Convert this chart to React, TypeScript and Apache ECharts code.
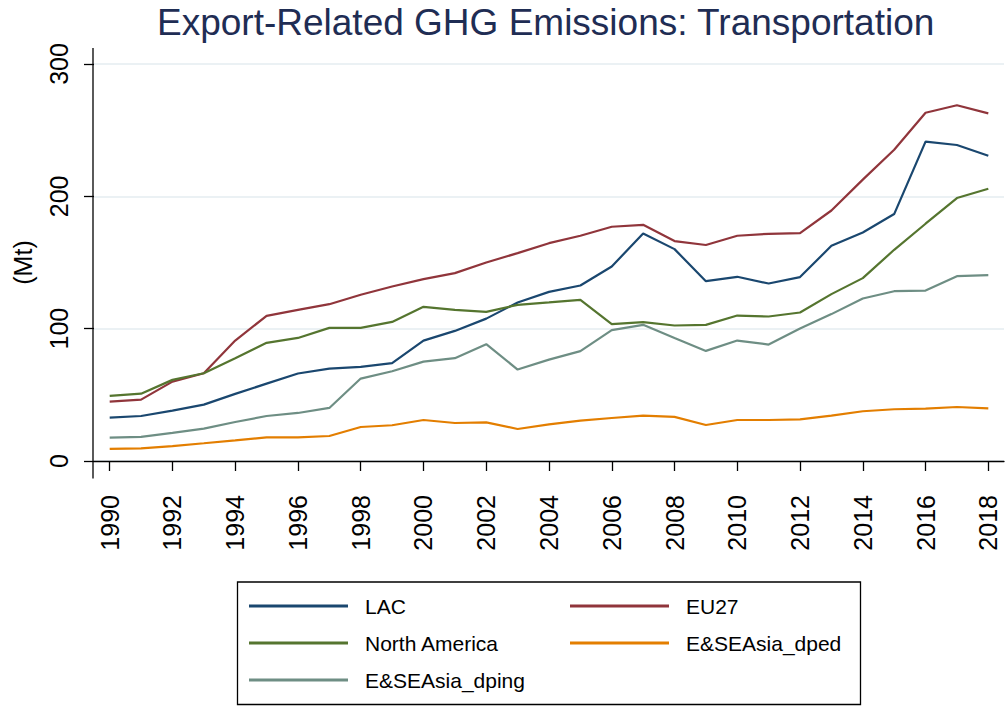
import React, { useEffect, useRef } from "react";
import * as echarts from "echarts";

const years = [
  "1990", "1991", "1992", "1993", "1994", "1995", "1996", "1997", "1998", "1999",
  "2000", "2001", "2002", "2003", "2004", "2005", "2006", "2007", "2008", "2009",
  "2010", "2011", "2012", "2013", "2014", "2015", "2016", "2017", "2018",
];

const lac = [
  32.8, 34.0, 38.1, 42.6, 50.7, 58.5, 66.1, 69.8, 71.1, 73.9,
  91.0, 98.3, 107.6, 119.8, 127.8, 132.6, 147.0, 171.9, 160.1, 135.9,
  139.2, 134.1, 139.0, 162.6, 172.7, 186.6, 241.3, 238.8, 230.7,
];
const eu27 = [
  44.9, 46.4, 60.0, 66.3, 91.0, 109.7, 114.2, 118.5, 125.6, 131.9,
  137.4, 142.0, 150.0, 157.1, 164.6, 170.2, 177.0, 178.5, 166.2, 163.2,
  170.2, 171.7, 172.2, 189.3, 212.6, 235.2, 263.2, 268.8, 262.7,
];
const northAmerica = [
  49.2, 50.9, 61.3, 66.3, 77.7, 89.3, 93.0, 100.6, 100.6, 105.1,
  116.5, 114.2, 112.7, 118.0, 119.8, 121.8, 103.4, 104.9, 102.4, 102.9,
  109.9, 109.2, 112.2, 126.1, 138.2, 159.6, 179.3, 198.7, 205.7,
];
const esDped = [
  9.1, 9.6, 11.3, 13.4, 15.6, 17.9, 17.9, 18.9, 25.7, 27.0,
  31.0, 28.7, 29.2, 24.2, 27.7, 30.5, 32.5, 34.3, 33.3, 27.2,
  31.0, 31.0, 31.5, 34.3, 37.6, 39.1, 39.6, 40.8, 39.8,
];
const esDping = [
  17.6, 18.2, 21.2, 24.5, 29.5, 34.0, 36.3, 40.1, 62.3, 67.8,
  75.1, 77.7, 88.3, 69.1, 76.6, 83.0, 98.9, 102.9, 93.0, 83.2,
  91.0, 88.0, 100.1, 111.0, 122.8, 128.3, 128.8, 139.7, 140.5,
];

const seriesNames = ["LAC", "EU27", "North America", "E&SEAsia_dped", "E&SEAsia_dping"];
const seriesValues = [lac, eu27, northAmerica, esDped, esDping];
const seriesColors = ["#1a476f", "#90353b", "#55752f", "#e37e00", "#6e8e84"];

const FONT = "'Liberation Sans', Arial, sans-serif";

export default function App() {
  const ref = useRef<HTMLDivElement>(null);

  useEffect(() => {
    document.body.style.margin = "0";
    if (!ref.current) return;
    const chart = echarts.init(ref.current, undefined, { renderer: "svg" });

    const legendText = {
      fontFamily: FONT,
      fontSize: 21,
      color: "#000",
      lineHeight: 24,
      padding: [0, 0, 0, 12],
    };

    chart.setOption({
      animation: false,
      backgroundColor: "#fff",
      title: {
        text: "Export-Related GHG Emissions: Transportation",
        left: 157,
        top: 4,
        padding: 0,
        textStyle: { fontFamily: FONT, fontSize: 37, fontWeight: "normal", color: "#1f2d54" },
      },
      grid: { left: 94, right: 2, top: 64, bottom: 246, containLabel: false },
      xAxis: {
        type: "category",
        data: years,
        boundaryGap: true,
        offset: 17,
        axisLine: { show: true, lineStyle: { color: "#000", width: 1.3 } },
        axisTick: { show: true, interval: 1, alignWithLabel: true, length: 10, lineStyle: { color: "#000", width: 1.3 } },
        axisLabel: { interval: 1, rotate: 90, margin: 17, fontFamily: FONT, fontSize: 25, color: "#000" },
        splitLine: { show: false },
      },
      yAxis: {
        type: "value",
        min: 0,
        max: 300,
        interval: 100,
        name: "(Mt)",
        nameLocation: "middle",
        nameRotate: 90,
        nameGap: 59,
        nameTextStyle: { fontFamily: FONT, fontSize: 25, color: "#000" },
        axisLine: { show: false },
        axisTick: { show: true, length: 10, lineStyle: { color: "#000", width: 1.3 } },
        axisLabel: { rotate: 90, margin: 23, fontFamily: FONT, fontSize: 25, color: "#000" },
        splitLine: { show: true, lineStyle: { color: "#e4edf1", width: 1.6 } },
      },
      legend: [
        {
          data: [seriesNames[0], seriesNames[2], seriesNames[4]],
          orient: "vertical",
          left: 249,
          top: 594,
          padding: 0,
          itemGap: 13,
          itemWidth: 99,
          itemHeight: 3,
          icon: "rect",
          textStyle: legendText,
        },
        {
          data: [seriesNames[1], seriesNames[3]],
          orient: "vertical",
          left: 570,
          top: 594,
          padding: 0,
          itemGap: 13,
          itemWidth: 99,
          itemHeight: 3,
          icon: "rect",
          textStyle: legendText,
        },
      ],
      graphic: [
        {
          type: "line",
          shape: { x1: 93, y1: 48, x2: 93, y2: 478.5 },
          style: { stroke: "#000", lineWidth: 1.3 },
          silent: true,
        },
        {
          type: "rect",
          shape: { x: 237.5, y: 582, width: 623, height: 122.5 },
          style: { fill: "none", stroke: "#000", lineWidth: 1.3 },
          silent: true,
        },
      ],
      series: seriesNames.map((name, i) => ({
        name,
        type: "line",
        data: seriesValues[i],
        symbol: "none",
        showSymbol: false,
        color: seriesColors[i],
        lineStyle: { color: seriesColors[i], width: 2.2 },
      })),
    });

    return () => {
      chart.dispose();
    };
  }, []);

  return <div ref={ref} style={{ width: 1006, height: 707 }} />;
}
